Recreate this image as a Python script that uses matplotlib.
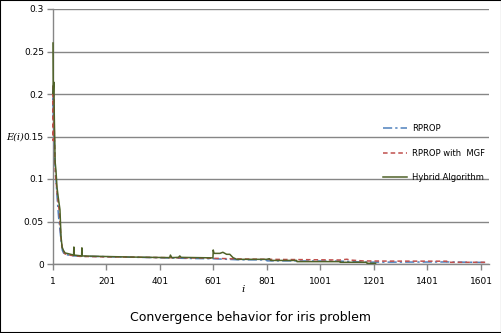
"""Convergence behaviour of RPROP variants on the iris problem"""
import matplotlib
matplotlib.use("Agg")
import matplotlib.pyplot as plt
from matplotlib.patches import Rectangle

## key points (iteration, error)
RPROP_IT = [1, 2, 3, 5, 8, 12, 16, 22, 27, 31, 36, 42, 50, 60, 80, 120, 176, 250,
            330, 400, 470, 540, 600, 690, 800, 801, 912, 1074, 1161, 1261, 1473, 1625]
RPROP_E = [0.21, 0.17, 0.2, 0.165, 0.12, 0.1, 0.08, 0.055, 0.04, 0.028, 0.016, 0.012,
           0.011, 0.0105, 0.0095, 0.009, 0.0088, 0.0082, 0.0078, 0.0074, 0.0068, 0.0064,
           0.0062, 0.005, 0.0048, 0.0037, 0.0036, 0.0034, 0.0022, 0.0022, 0.0024, 0.0018]

MGF_IT = [1, 2, 3, 5, 8, 10, 16, 25, 31, 36, 45, 60, 100, 176, 260, 350, 450, 560,
          690, 800, 912, 1074, 1100, 1110, 1161, 1261, 1473, 1474, 1627]
MGF_E = [0.21, 0.145, 0.2, 0.17, 0.125, 0.105, 0.085, 0.06, 0.03, 0.018, 0.012, 0.0105,
         0.009, 0.0085, 0.0082, 0.0078, 0.0074, 0.007, 0.006, 0.0055, 0.0052, 0.0047,
         0.0056, 0.0047, 0.0036, 0.0034, 0.0033, 0.002, 0.002]

HYB_IT = [1, 2, 4, 6, 9, 12, 16, 22, 27, 31, 35, 40, 46, 60, 78, 79, 80, 108, 109, 110,
          200, 290, 437, 440, 445, 470, 475, 480, 599, 600, 603, 625, 636, 650, 662,
          674, 688, 800, 810, 815, 912, 913, 1074, 1075, 1174, 1175, 1207]
HYB_E = [0.26, 0.2, 0.214, 0.17, 0.12, 0.11, 0.09, 0.075, 0.064, 0.032, 0.02, 0.016,
         0.013, 0.012, 0.0105, 0.02, 0.0105, 0.0095, 0.019, 0.0095, 0.0088, 0.0082,
         0.0075, 0.0105, 0.0075, 0.0078, 0.0095, 0.0078, 0.0072, 0.0165, 0.0125, 0.0125,
         0.0138, 0.0114, 0.0114, 0.0075, 0.0055, 0.0055, 0.0062, 0.0042, 0.0042, 0.0028,
         0.0028, 0.002, 0.002, 0.0008, 0.0008]

X_TICKS = [1, 201, 401, 601, 801, 1001, 1201, 1401, 1601]
Y_TICKS = [0, 0.05, 0.1, 0.15, 0.2, 0.25, 0.3]
Y_LABELS = ["0", "0.05", "0.1", "0.15", "0.2", "0.25", "0.3"]

GRID = "#868686"

fig = plt.figure(figsize=(5.02, 3.33), dpi=100)
ax = fig.add_axes([53 / 502, 69 / 333, 436 / 502, 255 / 333])

ax.plot(RPROP_IT, RPROP_E, color="#4F81BD", lw=1.1, ls=(0, (6, 2, 1.5, 2)),
        label="RPROP", zorder=3, clip_on=False)
ax.plot(MGF_IT, MGF_E, color="#C0504D", lw=1.1, ls=(0, (3, 2)),
        label="RPROP with  MGF", zorder=3, clip_on=False)
ax.plot(HYB_IT, HYB_E, color="#4F6228", lw=1.1,
        label="Hybrid Algorithm", zorder=3, clip_on=False)

ax.set_xlim(1, 1631)
ax.set_ylim(0, 0.3)
ax.set_xticks(X_TICKS)
ax.set_yticks(Y_TICKS)
ax.set_yticklabels(Y_LABELS)
ax.tick_params(axis="both", labelsize=6.5, color=GRID, length=4, width=1)
ax.tick_params(axis="y", pad=2.5)
ax.tick_params(axis="x", pad=5)
ax.grid(axis="y", color=GRID, lw=1)
ax.set_axisbelow(True)
for side in ["top", "right"]:
    ax.spines[side].set_visible(False)
for side in ["left", "bottom"]:
    ax.spines[side].set_color(GRID)
    ax.spines[side].set_linewidth(1)

fig.text(6 / 502, 1 - 137 / 333, "E(i)", fontsize=7, style="italic",
         family="DejaVu Serif", ha="left", va="center")
fig.text(243 / 502, 1 - 290 / 333, "i", fontsize=7.5, style="italic",
         family="DejaVu Serif", ha="center", va="center")
fig.text(251 / 502, 1 - 318 / 333, "Convergence behavior for iris problem",
         fontsize=9, ha="center", va="center")

ax.legend(loc="upper left", bbox_to_anchor=(379 / 502, 1 - 120 / 333),
          bbox_transform=fig.transFigure, frameon=False, fontsize=6,
          handlelength=2.9, handletextpad=0.6, labelspacing=1.85, borderpad=0)

fig.patches.append(Rectangle((0, 0), 1, 1, transform=fig.transFigure, fill=False,
                             edgecolor="black", lw=1.5))

fig.savefig("out.png", dpi=100)
